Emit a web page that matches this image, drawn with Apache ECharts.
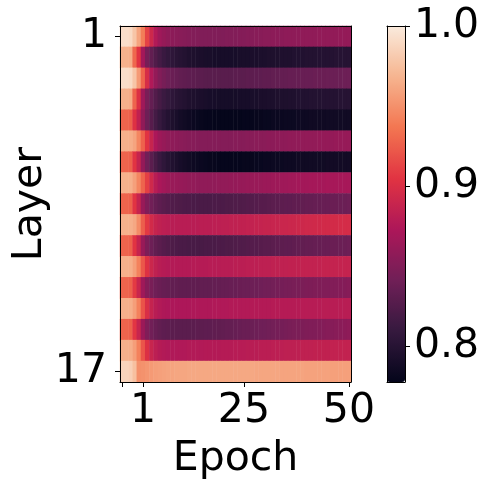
<!DOCTYPE html>
<html>
<head>
<meta charset="utf-8">
<script src="https://cdn.jsdelivr.net/npm/echarts@6/dist/echarts.min.js"></script>
<style>
  html, body { margin: 0; padding: 0; background: #fff; }
  #chart { width: 491px; height: 491px; }
</style>
</head>
<body>
<div id="chart"></div>
<script>
// rows = layers 1..17, columns = 55 cells (tick "1" sits on column 5)
const layers = ['1', '2', '3', '4', '5', '6', '7', '8', '9', '10', '11', '12', '13', '14', '15', '16', '17'];
const xTickIdx = [0, 5, 29, 54];
const xTickText = ['', '1', '25', '50'];
const cbTicks = [0.8, 0.9, 1.0];
const vMin = 0.778;
const vMax = 1.0;
// seaborn "rocket"
const rocket = ['#03051A', '#35193E', '#701F57', '#AD1759', '#E13342', '#F37651', '#F6B48F', '#FAEBDD'];

const layer1 = [0.992, 0.992, 0.990, 0.978, 0.960, 0.940, 0.912, 0.892, 0.876, 0.866,
  0.861, 0.858, 0.856, 0.855, 0.854, 0.853, 0.852, 0.851, 0.851, 0.850, 0.850, 0.850, 0.850, 0.850, 0.850,
  0.851, 0.851, 0.851, 0.852, 0.852, 0.853, 0.853, 0.854, 0.854, 0.855, 0.855, 0.856, 0.856, 0.856, 0.857,
  0.857, 0.857, 0.857, 0.858, 0.858, 0.858, 0.858, 0.859, 0.859, 0.859, 0.859, 0.859, 0.860, 0.860, 0.860];
const layer2 = [0.967, 0.967, 0.965, 0.930, 0.905, 0.868, 0.845, 0.834, 0.825, 0.818,
  0.812, 0.808, 0.805, 0.802, 0.800, 0.798, 0.796, 0.795, 0.794, 0.793, 0.792, 0.792, 0.791, 0.791, 0.791,
  0.791, 0.791, 0.791, 0.792, 0.792, 0.792, 0.793, 0.793, 0.794, 0.794, 0.795, 0.795, 0.795, 0.796, 0.796,
  0.796, 0.797, 0.797, 0.797, 0.798, 0.798, 0.798, 0.799, 0.799, 0.799, 0.799, 0.800, 0.800, 0.800, 0.800];
const layer3 = [0.992, 0.992, 0.990, 0.978, 0.955, 0.928, 0.898, 0.875, 0.860, 0.851,
  0.845, 0.841, 0.838, 0.836, 0.834, 0.833, 0.832, 0.831, 0.830, 0.830, 0.829, 0.829, 0.829, 0.829, 0.829,
  0.829, 0.829, 0.830, 0.830, 0.830, 0.831, 0.831, 0.832, 0.832, 0.833, 0.833, 0.834, 0.834, 0.835, 0.835,
  0.836, 0.836, 0.836, 0.837, 0.837, 0.837, 0.838, 0.838, 0.838, 0.839, 0.839, 0.839, 0.839, 0.840, 0.840];
const layer4 = [0.966, 0.966, 0.964, 0.928, 0.902, 0.866, 0.846, 0.835, 0.826, 0.819,
  0.813, 0.809, 0.805, 0.802, 0.800, 0.798, 0.796, 0.795, 0.794, 0.793, 0.792, 0.791, 0.791, 0.790, 0.790,
  0.790, 0.790, 0.790, 0.791, 0.791, 0.791, 0.792, 0.792, 0.793, 0.793, 0.794, 0.794, 0.795, 0.795, 0.795,
  0.796, 0.796, 0.797, 0.797, 0.797, 0.798, 0.798, 0.798, 0.799, 0.799, 0.799, 0.799, 0.800, 0.800, 0.800];
const layer5 = [0.928, 0.928, 0.926, 0.903, 0.885, 0.858, 0.840, 0.828, 0.818, 0.810,
  0.804, 0.799, 0.795, 0.792, 0.789, 0.787, 0.785, 0.783, 0.782, 0.781, 0.780, 0.780, 0.779, 0.779, 0.779,
  0.779, 0.779, 0.779, 0.779, 0.780, 0.780, 0.780, 0.781, 0.781, 0.782, 0.782, 0.783, 0.783, 0.783, 0.784,
  0.784, 0.784, 0.785, 0.785, 0.785, 0.786, 0.786, 0.786, 0.786, 0.787, 0.787, 0.787, 0.787, 0.787, 0.787];
const layer6 = [0.966, 0.966, 0.965, 0.960, 0.945, 0.927, 0.905, 0.888, 0.873, 0.865,
  0.861, 0.858, 0.857, 0.856, 0.855, 0.854, 0.853, 0.853, 0.852, 0.852, 0.852, 0.852, 0.852, 0.852, 0.852,
  0.852, 0.852, 0.853, 0.853, 0.853, 0.854, 0.854, 0.855, 0.855, 0.855, 0.856, 0.856, 0.857, 0.857, 0.857,
  0.858, 0.858, 0.858, 0.859, 0.859, 0.859, 0.859, 0.860, 0.860, 0.860, 0.860, 0.861, 0.861, 0.861, 0.861];
const layer7 = [0.928, 0.928, 0.926, 0.905, 0.888, 0.860, 0.842, 0.830, 0.820, 0.812,
  0.806, 0.801, 0.797, 0.794, 0.791, 0.789, 0.787, 0.785, 0.784, 0.783, 0.782, 0.781, 0.781, 0.780, 0.780,
  0.780, 0.780, 0.780, 0.780, 0.781, 0.781, 0.781, 0.782, 0.782, 0.783, 0.783, 0.784, 0.784, 0.784, 0.785,
  0.785, 0.785, 0.786, 0.786, 0.786, 0.787, 0.787, 0.787, 0.787, 0.788, 0.788, 0.788, 0.788, 0.788, 0.788];
const layer8 = [0.967, 0.967, 0.966, 0.958, 0.945, 0.928, 0.910, 0.893, 0.880, 0.872,
  0.868, 0.865, 0.863, 0.862, 0.861, 0.860, 0.859, 0.859, 0.858, 0.858, 0.858, 0.858, 0.858, 0.859, 0.859,
  0.859, 0.860, 0.860, 0.861, 0.861, 0.862, 0.862, 0.863, 0.863, 0.864, 0.864, 0.865, 0.865, 0.866, 0.866,
  0.867, 0.867, 0.868, 0.868, 0.868, 0.869, 0.869, 0.869, 0.869, 0.870, 0.870, 0.870, 0.870, 0.870, 0.870];
const layer9 = [0.928, 0.928, 0.926, 0.905, 0.888, 0.862, 0.850, 0.842, 0.836, 0.832,
  0.829, 0.827, 0.825, 0.824, 0.823, 0.822, 0.822, 0.821, 0.821, 0.821, 0.821, 0.821, 0.822, 0.822, 0.822,
  0.823, 0.823, 0.824, 0.824, 0.825, 0.826, 0.826, 0.827, 0.828, 0.828, 0.829, 0.830, 0.830, 0.831, 0.832,
  0.832, 0.833, 0.833, 0.834, 0.835, 0.835, 0.836, 0.836, 0.837, 0.837, 0.838, 0.838, 0.839, 0.839, 0.840];
const layer10 = [0.967, 0.967, 0.966, 0.962, 0.948, 0.925, 0.907, 0.895, 0.888, 0.884,
  0.882, 0.881, 0.880, 0.880, 0.880, 0.880, 0.880, 0.880, 0.880, 0.881, 0.881, 0.881, 0.882, 0.882, 0.883,
  0.883, 0.884, 0.884, 0.885, 0.885, 0.886, 0.886, 0.887, 0.887, 0.888, 0.888, 0.889, 0.889, 0.890, 0.890,
  0.891, 0.891, 0.892, 0.892, 0.893, 0.893, 0.894, 0.894, 0.895, 0.895, 0.896, 0.896, 0.897, 0.897, 0.897];
const layer11 = [0.928, 0.928, 0.926, 0.905, 0.888, 0.862, 0.848, 0.840, 0.834, 0.830,
  0.827, 0.825, 0.823, 0.822, 0.821, 0.821, 0.820, 0.820, 0.820, 0.820, 0.821, 0.821, 0.821, 0.822, 0.822,
  0.823, 0.823, 0.824, 0.825, 0.825, 0.826, 0.827, 0.827, 0.828, 0.829, 0.829, 0.830, 0.831, 0.831, 0.832,
  0.832, 0.833, 0.834, 0.834, 0.835, 0.835, 0.836, 0.836, 0.837, 0.837, 0.838, 0.838, 0.839, 0.839, 0.840];
const layer12 = [0.966, 0.966, 0.965, 0.957, 0.942, 0.922, 0.903, 0.891, 0.884, 0.880,
  0.878, 0.877, 0.877, 0.877, 0.877, 0.877, 0.877, 0.878, 0.878, 0.878, 0.878, 0.879, 0.879, 0.879, 0.880,
  0.880, 0.880, 0.881, 0.881, 0.881, 0.882, 0.882, 0.882, 0.883, 0.883, 0.883, 0.884, 0.884, 0.884, 0.884,
  0.885, 0.885, 0.885, 0.886, 0.886, 0.886, 0.886, 0.886, 0.887, 0.887, 0.887, 0.887, 0.887, 0.887, 0.887];
const layer13 = [0.928, 0.928, 0.926, 0.908, 0.890, 0.866, 0.853, 0.846, 0.841, 0.838,
  0.836, 0.835, 0.834, 0.834, 0.833, 0.833, 0.833, 0.833, 0.833, 0.834, 0.834, 0.834, 0.835, 0.835, 0.836,
  0.836, 0.837, 0.837, 0.838, 0.839, 0.839, 0.840, 0.840, 0.841, 0.842, 0.842, 0.843, 0.844, 0.844, 0.845,
  0.845, 0.846, 0.846, 0.847, 0.848, 0.848, 0.849, 0.849, 0.850, 0.850, 0.851, 0.851, 0.852, 0.852, 0.853];
const layer14 = [0.966, 0.966, 0.965, 0.957, 0.942, 0.920, 0.900, 0.887, 0.880, 0.876,
  0.874, 0.873, 0.873, 0.873, 0.873, 0.873, 0.873, 0.874, 0.874, 0.874, 0.874, 0.874, 0.875, 0.875, 0.875,
  0.875, 0.876, 0.876, 0.876, 0.876, 0.876, 0.877, 0.877, 0.877, 0.877, 0.877, 0.878, 0.878, 0.878, 0.878,
  0.878, 0.878, 0.878, 0.879, 0.879, 0.879, 0.879, 0.879, 0.880, 0.880, 0.880, 0.880, 0.880, 0.880, 0.880];
const layer15 = [0.928, 0.928, 0.926, 0.906, 0.889, 0.864, 0.850, 0.842, 0.837, 0.834,
  0.832, 0.831, 0.830, 0.830, 0.830, 0.830, 0.830, 0.830, 0.831, 0.831, 0.832, 0.832, 0.833, 0.833, 0.834,
  0.835, 0.835, 0.836, 0.837, 0.838, 0.838, 0.839, 0.840, 0.841, 0.841, 0.842, 0.843, 0.844, 0.844, 0.845,
  0.846, 0.847, 0.847, 0.848, 0.849, 0.850, 0.850, 0.851, 0.852, 0.853, 0.853, 0.854, 0.855, 0.856, 0.857];
const layer16 = [0.966, 0.966, 0.965, 0.957, 0.942, 0.921, 0.902, 0.889, 0.882, 0.878,
  0.876, 0.875, 0.875, 0.875, 0.875, 0.875, 0.876, 0.876, 0.876, 0.876, 0.877, 0.877, 0.877, 0.877, 0.878,
  0.878, 0.878, 0.879, 0.879, 0.879, 0.880, 0.880, 0.880, 0.881, 0.881, 0.881, 0.882, 0.882, 0.882, 0.883,
  0.883, 0.883, 0.883, 0.884, 0.884, 0.884, 0.885, 0.885, 0.885, 0.885, 0.886, 0.886, 0.886, 0.886, 0.886];
const layer17 = [0.986, 0.986, 0.984, 0.975, 0.950, 0.951, 0.953, 0.955, 0.957, 0.958,
  0.959, 0.960, 0.960, 0.961, 0.961, 0.961, 0.962, 0.962, 0.962, 0.962, 0.962, 0.962, 0.962, 0.962, 0.962,
  0.962, 0.962, 0.962, 0.962, 0.962, 0.962, 0.962, 0.961, 0.961, 0.961, 0.961, 0.961, 0.961, 0.960, 0.960,
  0.960, 0.960, 0.960, 0.960, 0.959, 0.959, 0.959, 0.959, 0.959, 0.959, 0.958, 0.958, 0.958, 0.958, 0.958];

const rows = [layer1, layer2, layer3, layer4, layer5, layer6, layer7, layer8, layer9,
  layer10, layer11, layer12, layer13, layer14, layer15, layer16, layer17];
const cols = layer1.map((_, i) => String(i));

const cells = [];
rows.forEach((row, y) => {
  row.forEach((v, x) => cells.push([x, y, v]));
});

const font = 'DejaVu Sans';
const black = '#000';
const fs = 41;
const edge = { show: true, onZero: false, lineStyle: { color: black, width: 1 } };
const noMarks = { axisTick: { show: false }, axisLabel: { show: false }, splitLine: { show: false } };

var chart = echarts.init(document.getElementById('chart'), null, { renderer: 'canvas' });
var option = {
  animation: false,
  backgroundColor: '#fff',
  textStyle: { fontFamily: font },
  grid: [
    { left: 120, top: 26, width: 231, height: 356 },
    { left: 387, top: 26, width: 18, height: 356 }
  ],
  xAxis: [
    {
      type: 'category', gridIndex: 0, data: cols, position: 'bottom', z: 10,
      axisLine: edge,
      axisTick: {
        show: true, alignWithLabel: true, length: 5,
        interval: (i) => xTickIdx.indexOf(i) >= 0,
        lineStyle: { color: black, width: 1 }
      },
      axisLabel: {
        show: true, margin: 9, fontSize: fs, color: black, fontFamily: font,
        interval: (i) => xTickIdx.indexOf(i) >= 0,
        formatter: (val) => xTickText[xTickIdx.indexOf(Number(val))]
      },
      splitLine: { show: false },
      splitArea: { show: false },
      name: 'Epoch', nameLocation: 'middle', nameGap: 57,
      nameTextStyle: { fontSize: fs, color: black, fontFamily: font }
    },
    Object.assign({ type: 'category', gridIndex: 0, data: cols, position: 'top', z: 10, axisLine: edge }, noMarks),
    Object.assign({ type: 'value', gridIndex: 1, position: 'bottom', min: 0, max: 1, z: 10, axisLine: edge }, noMarks),
    Object.assign({ type: 'value', gridIndex: 1, position: 'top', min: 0, max: 1, z: 10, axisLine: edge }, noMarks)
  ],
  yAxis: [
    {
      type: 'category', gridIndex: 0, data: layers, inverse: true, position: 'left', z: 10,
      axisLine: edge,
      axisTick: {
        show: true, alignWithLabel: true, length: 5,
        interval: (i) => i === 0 || i === layers.length - 1,
        lineStyle: { color: black, width: 1 }
      },
      axisLabel: {
        show: true, margin: 13, fontSize: fs, color: black, fontFamily: font,
        interval: (i) => i === 0 || i === layers.length - 1
      },
      splitLine: { show: false },
      splitArea: { show: false },
      name: 'Layer', nameLocation: 'middle', nameGap: 61,
      nameTextStyle: { fontSize: fs, color: black, fontFamily: font }
    },
    Object.assign({ type: 'category', gridIndex: 0, data: layers, inverse: true, position: 'right', z: 10, axisLine: edge }, noMarks),
    {
      type: 'value', gridIndex: 1, position: 'right', min: vMin, max: vMax, z: 10,
      axisLine: edge,
      axisTick: { show: true, length: 5, customValues: cbTicks, lineStyle: { color: black, width: 1 } },
      axisLabel: {
        show: true, margin: 9, fontSize: fs, color: black, fontFamily: font,
        customValues: cbTicks,
        formatter: (v) => v.toFixed(1)
      },
      splitLine: { show: false }
    },
    Object.assign({ type: 'value', gridIndex: 1, position: 'left', min: 0, max: 1, z: 10, axisLine: edge }, noMarks)
  ],
  visualMap: {
    type: 'continuous',
    seriesIndex: 0,
    min: vMin,
    max: vMax,
    calculable: false,
    orient: 'vertical',
    left: 387,
    top: 26,
    padding: 0,
    itemWidth: 18,
    itemHeight: 356,
    text: null,
    showLabel: false,
    hoverLink: false,
    inRange: { color: rocket }
  },
  series: [
    {
      type: 'heatmap',
      xAxisIndex: 0,
      yAxisIndex: 0,
      data: cells,
      progressive: 0,
      itemStyle: { borderWidth: 0 },
      emphasis: { disabled: true }
    }
  ]
};
option && chart.setOption(option);
</script>
</body>
</html>
